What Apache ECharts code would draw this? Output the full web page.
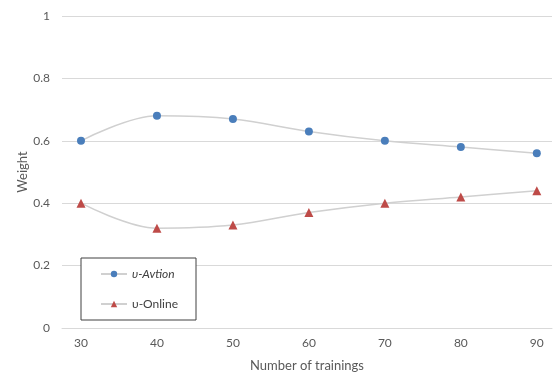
<!DOCTYPE html>
<html>
<head>
<meta charset="utf-8">
<script src="https://cdn.jsdelivr.net/npm/echarts@6/dist/echarts.min.js"></script>
<style>
  html, body { margin: 0; padding: 0; background: #fff; }
  #chart { width: 554px; height: 377px; }
</style>
</head>
<body>
<div id="chart"></div>
<script>
// Number of trainings on the x axis
const trainings = [30, 40, 50, 60, 70, 80, 90];
// Weight values per series
const avtionWeights = [0.60, 0.68, 0.67, 0.63, 0.60, 0.58, 0.56];
const onlineWeights = [0.40, 0.32, 0.33, 0.37, 0.40, 0.42, 0.44];
// Tick labels on the weight axis
const weightTicks = [0, 0.2, 0.4, 0.6, 0.8, 1];

const seriesNames = ['\u03c5-Avtion', '\u03c5-Online'];
const textColor = '#595959';
const fontFamily = 'Lato, "Open Sans", sans-serif';

const toPairs = (xs, ys) => xs.map((x, i) => [x, ys[i]]);

const chart = echarts.init(document.getElementById('chart'), null, { renderer: 'canvas' });
chart.setOption({
  animation: false,
  backgroundColor: '#fff',
  textStyle: { fontFamily: fontFamily },
  grid: { left: 62, right: 2, top: 16, bottom: 49 },
  xAxis: {
    type: 'value',
    min: 27.5,
    max: 92,
    name: 'Number of trainings',
    nameLocation: 'middle',
    nameGap: 31,
    nameMoveOverlap: false,
    nameTextStyle: { color: textColor, fontSize: 13, fontFamily: fontFamily },
    axisLine: { show: true, lineStyle: { color: '#d9d9d9', width: 1 } },
    axisTick: { show: false },
    splitLine: { show: false },
    axisLabel: {
      customValues: trainings,
      color: textColor,
      fontSize: 12,
      margin: 9,
      fontFamily: fontFamily
    }
  },
  yAxis: {
    type: 'value',
    min: weightTicks[0],
    max: weightTicks[weightTicks.length - 1],
    interval: 0.2,
    name: 'Weight',
    nameLocation: 'middle',
    nameGap: 33,
    nameMoveOverlap: false,
    nameTextStyle: { color: textColor, fontSize: 13, fontFamily: fontFamily },
    axisLine: { show: false },
    axisTick: { show: false },
    splitLine: { lineStyle: { color: '#d9d9d9', width: 1 } },
    axisLabel: {
      color: textColor,
      fontSize: 12,
      margin: 12,
      fontFamily: fontFamily,
      formatter: v => String(+v.toFixed(1))
    }
  },
  legend: {
    orient: 'vertical',
    left: 81,
    top: 258,
    padding: [9, 18, 9, 19],
    itemGap: 16,
    itemWidth: 26,
    itemHeight: 8,
    borderColor: '#404040',
    borderWidth: 1,
    backgroundColor: '#fff',
    textStyle: { color: '#404040', fontSize: 12, fontFamily: fontFamily, lineHeight: 14 },
    data: [
      { name: seriesNames[0], textStyle: { fontStyle: 'italic' } },
      { name: seriesNames[1] }
    ]
  },
  series: [
    {
      name: seriesNames[0],
      type: 'line',
      smooth: 0.35,
      data: toPairs(trainings, avtionWeights),
      symbol: 'circle',
      symbolSize: 8,
      lineStyle: { color: '#d0d0d0', width: 1.5 },
      itemStyle: { color: '#4a7ebb' }
    },
    {
      name: seriesNames[1],
      type: 'line',
      smooth: 0.35,
      data: toPairs(trainings, onlineWeights),
      symbol: 'triangle',
      symbolSize: 9,
      lineStyle: { color: '#d0d0d0', width: 1.5 },
      itemStyle: { color: '#be4b48' }
    }
  ]
});
</script>
</body>
</html>
